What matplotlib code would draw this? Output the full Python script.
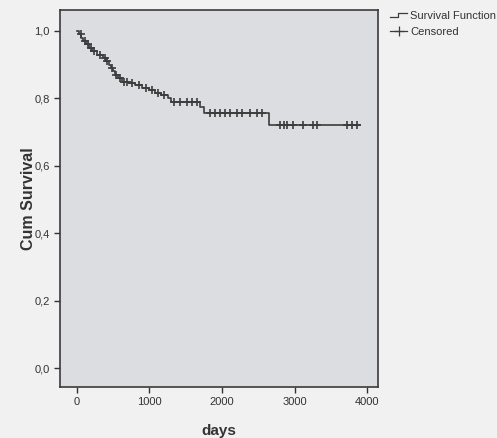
import numpy as np
import matplotlib
matplotlib.use("Agg")
import matplotlib.pyplot as plt
from matplotlib.legend_handler import HandlerBase
from matplotlib.lines import Line2D

plt.rcParams['font.family'] = ['Liberation Sans', 'DejaVu Sans']

# Kaplan-Meier estimate (days, survival after the drop)
event_days = [0, 30, 60, 90, 130, 170, 210, 280, 360, 400, 440, 470, 500, 530,
              560, 620, 720, 800, 900, 1000, 1080, 1160, 1250, 1300, 1690, 1750, 2650]
event_surv = [1.0, 0.99, 0.98, 0.97, 0.96, 0.95, 0.94, 0.93, 0.92, 0.91, 0.90, 0.89,
              0.88, 0.87, 0.86, 0.85, 0.845, 0.84, 0.83, 0.825, 0.815, 0.81, 0.80,
              0.79, 0.775, 0.757, 0.72]
last_day = 3900

# censored observations (days)
censor_days = [50, 110, 150, 190, 240, 320, 380, 420, 480, 545, 590, 650, 690, 760,
               850, 950, 1040, 1120, 1200, 1340, 1420, 1520, 1590, 1655,
               1835, 1900, 1970, 2040, 2110, 2205, 2275, 2385, 2480, 2550,
               2800, 2860, 2900, 2980, 3120, 3255, 3310, 3725, 3795, 3860]

line_col = '#3c3c3c'
text_col = '#333333'

fig = plt.figure(figsize=(4.97, 4.38), dpi=100, facecolor='#f1f1f2')
ax = fig.add_axes([0.1207, 0.1164, 0.640, 0.8607])
ax.set_facecolor('#dcdde0')

xs = event_days + [last_day]
ys = event_surv + [event_surv[-1]]
ax.step(xs, ys, where='post', color=line_col, lw=1.2)

cs = [event_surv[np.searchsorted(event_days, d, side='right') - 1] for d in censor_days]
ax.plot(censor_days, cs, linestyle='none', marker='+', color=line_col, ms=6, mew=1.2)

ax.set_xlim(-234, 4152)
ax.set_ylim(-0.056, 1.062)
ax.set_xticks([0, 1000, 2000, 3000, 4000])
ax.set_yticks([0.0, 0.2, 0.4, 0.6, 0.8, 1.0])
ax.set_yticklabels(['0,0', '0,2', '0,4', '0,6', '0,8', '1,0'])
ax.tick_params(labelsize=8, colors=text_col, length=4, width=1, direction='out')
for s in ax.spines.values():
    s.set_color('#3a3a3a')
    s.set_linewidth(1.2)

ax.set_xlabel('days', fontsize=11, fontweight='bold', color=text_col, labelpad=12)
ax.set_ylabel('Cum Survival', fontsize=11.5, fontweight='bold', color=text_col, labelpad=-1)


class StepHandler(HandlerBase):
    def create_artists(self, legend, orig_handle, xdescent, ydescent, width, height,
                       fontsize, trans):
        w = width
        h = height
        line = Line2D([0, 0.45 * w, 0.45 * w, w], [0.2 * h, 0.2 * h, 0.8 * h, 0.8 * h],
                      color=line_col, lw=0.9, transform=trans)
        return [line]


surv_handle = Line2D([], [], color=line_col)
cens_handle = Line2D([], [], color=line_col, lw=0.9, marker='+', ms=7, mew=0.9)
leg = fig.legend([surv_handle, cens_handle], ['Survival Function', 'Censored'],
                 handler_map={surv_handle: StepHandler()},
                 loc='upper left', bbox_to_anchor=(0.775, 0.985), frameon=False,
                 fontsize=8, handlelength=1.6, handletextpad=0.25, labelspacing=0.55,
                 borderaxespad=0)
for t in leg.get_texts():
    t.set_color(text_col)

fig.savefig('out.png', dpi=100, facecolor=fig.get_facecolor())
